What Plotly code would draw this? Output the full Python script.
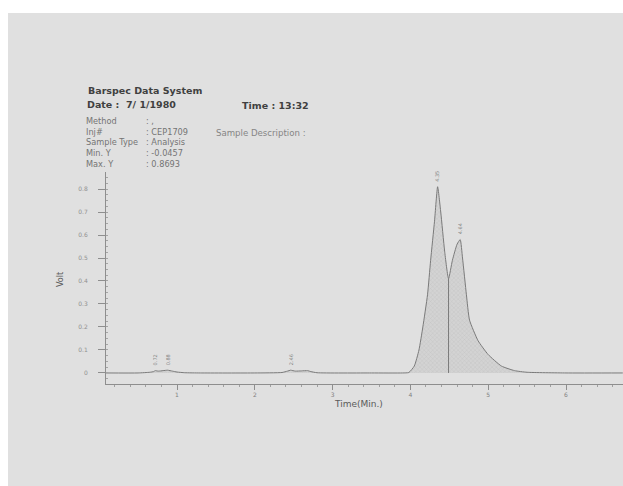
import plotly.graph_objects as go

# ---- data ----
time_min = [0.087, 0.5, 0.65, 0.70, 0.72, 0.76, 0.82, 0.88, 0.94, 1.0, 1.1, 1.3, 2.0, 2.35, 2.42,
            2.46, 2.52, 2.6, 2.68, 2.72, 2.8, 3.5, 3.9, 3.98, 4.05, 4.11, 4.16, 4.22, 4.26, 4.31,
            4.35, 4.39, 4.44, 4.49, 4.54, 4.60, 4.64, 4.67, 4.72, 4.76, 4.87, 5.0, 5.17, 5.34,
            5.5, 6.0, 6.73]
volt = [0.0, 0.0, 0.003, 0.006, 0.010, 0.008, 0.010, 0.012, 0.008, 0.004, 0.001, 0.0, 0.0, 0.002,
        0.008, 0.012, 0.008, 0.009, 0.010, 0.006, 0.001, 0.0, 0.0, 0.002, 0.03, 0.10, 0.20, 0.34,
        0.49, 0.66, 0.81, 0.70, 0.53, 0.41, 0.49, 0.56, 0.58, 0.50, 0.34, 0.23, 0.14, 0.08, 0.03,
        0.01, 0.003, 0.0, 0.0]

peak_times = [0.72, 0.88, 2.46, 4.35, 4.64]
peak_heights = [0.010, 0.012, 0.012, 0.81, 0.58]
peak_labels = ["0.72", "0.88", "2.46", "4.35", "4.64"]

valley_time = 4.49
valley_volt = 0.41

y_ticks = [0, 0.1, 0.2, 0.3, 0.4, 0.5, 0.6, 0.7, 0.8]
y_ticktext = ["0", "0.1", "0.2", "0.3", "0.4", "0.5", "0.6", "0.7", "0.8"]
x_ticks = [1, 2, 3, 4, 5, 6]

header_keys = ["Method", "Inj#", "Sample Type", "Min. Y", "Max. Y"]
header_values = [": ,", ": CEP1709", ": Analysis", ": -0.0457", ": 0.8693"]

# ---- layout geometry (pixels) ----
W, H = 623, 486
L, R, T, B = 106, 0, 172, 102
PW, PH = W - L - R, H - T - B


def px(x):
    return (x - L) / PW


def py(y):
    return (H - B - y) / PH


FONT = "DejaVu Sans, Verdana, sans-serif"
INK = "#747474"

fig = go.Figure()

fig.add_trace(go.Scatter(
    x=time_min, y=volt, mode="lines",
    line=dict(color="#7a7a7a", width=1, shape="spline", smoothing=0.5),
    fill="tozeroy",
    fillcolor="rgba(0,0,0,0)",
    fillpattern=dict(shape="x", size=3, solidity=0.2, fgcolor="#a8a8a8", bgcolor="#d3d3d3"),
    hoverinfo="skip", showlegend=False,
))

fig.add_trace(go.Scatter(
    x=[valley_time, valley_time], y=[0, valley_volt], mode="lines",
    line=dict(color="#7a7a7a", width=1), hoverinfo="skip", showlegend=False,
))

for t, h, lab in zip(peak_times, peak_heights, peak_labels):
    fig.add_annotation(x=t, y=h, text=lab, textangle=-90, showarrow=False,
                       yanchor="bottom", xanchor="center", yshift=3,
                       font=dict(family=FONT, size=5, color="#808080"))

fig.update_xaxes(
    range=[(L - 99.2) / 77.8, (W - 99.2) / 77.8],
    showline=True, linecolor="#8e8e8e", linewidth=1,
    tickvals=x_ticks, ticks="outside", ticklen=5, tickcolor="#8e8e8e",
    minor=dict(dtick=0.2, ticks="outside", ticklen=2, tickcolor="#a0a0a0"),
    tickfont=dict(family=FONT, size=6, color="#808080"),
    showgrid=False, zeroline=False, fixedrange=True,
)
fig.update_yaxes(
    range=[-0.048, 0.874],
    showline=True, linecolor="#8e8e8e", linewidth=1,
    tickvals=y_ticks, ticktext=y_ticktext, ticks="outside", ticklen=7, tickcolor="#8e8e8e",
    ticklabelstandoff=9,
    minor=dict(dtick=0.025, ticks="inside", ticklen=2, tickcolor="#a5a5a5"),
    tickfont=dict(family=FONT, size=6, color="#909090"),
    showgrid=False, zeroline=False, fixedrange=True,
)

# page (scanned sheet)
fig.add_shape(type="rect", xref="paper", yref="paper",
              x0=px(8), x1=px(W + 5), y0=py(H + 5), y1=py(13),
              fillcolor="#e0e0e0", line=dict(width=0), layer="below")

ann = []
ann.append(dict(x=px(87), y=py(90), yanchor="middle", text="<b>Barspec Data System</b>",
                font=dict(family=FONT, size=9.5, color="#404040")))
ann.append(dict(x=px(86), y=py(104), yanchor="middle", text="<b>Date :  7/ 1/1980</b>",
                font=dict(family=FONT, size=9.5, color="#404040")))
ann.append(dict(x=px(241), y=py(106), yanchor="middle", text="<b>Time : 13:32</b>",
                font=dict(family=FONT, size=9.5, color="#404040")))
ann.append(dict(x=px(85), y=py(115), yanchor="top", align="left",
                text="<br>".join(header_keys),
                font=dict(family=FONT, size=8.2, color=INK)))
ann.append(dict(x=px(145), y=py(115), yanchor="top", align="left",
                text="<br>".join(header_values),
                font=dict(family=FONT, size=8.2, color=INK)))
ann.append(dict(x=px(215), y=py(133), yanchor="middle", text="Sample Description :",
                font=dict(family=FONT, size=8.6, color="#858585")))
for a in ann:
    fig.add_annotation(xref="paper", yref="paper", xanchor="left",
                       showarrow=False, borderpad=0, **a)

fig.add_annotation(xref="paper", yref="paper", x=px(358), y=py(404), text="Time(Min.)",
                   showarrow=False, xanchor="center", yanchor="middle",
                   font=dict(family=FONT, size=9, color="#5a5a5a"))
fig.add_annotation(xref="paper", yref="paper", x=px(60), y=py(280), text="Volt",
                   showarrow=False, textangle=-90, xanchor="center", yanchor="middle",
                   font=dict(family=FONT, size=8, color="#5a5a5a"))

fig.update_layout(
    width=W, height=H,
    margin=dict(l=L, r=R, t=T, b=B),
    paper_bgcolor="white", plot_bgcolor="rgba(0,0,0,0)",
    showlegend=False,
)

fig.write_html("out.html", config={"displayModeBar": False})
